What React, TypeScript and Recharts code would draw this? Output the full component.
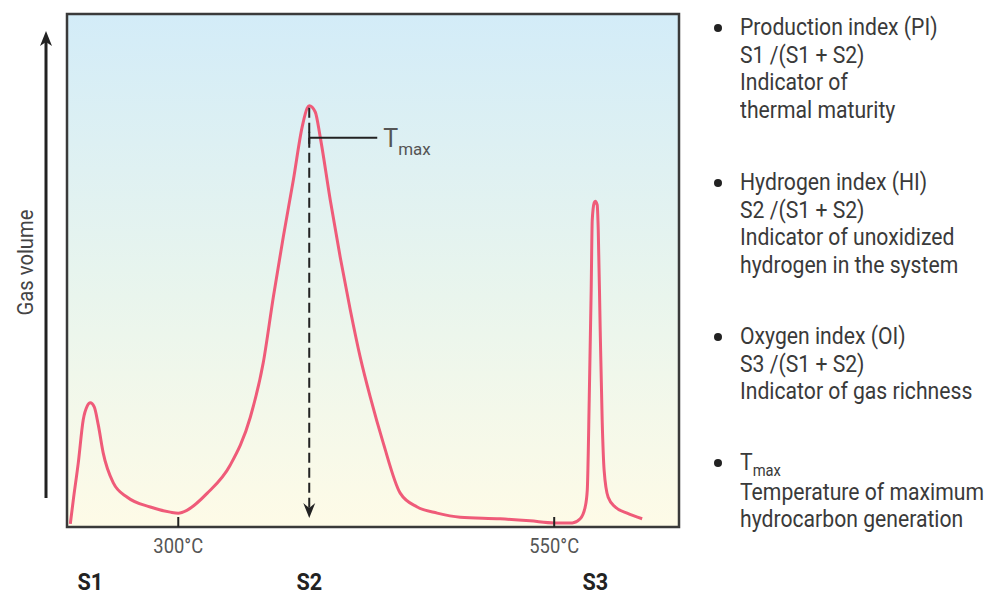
import React from "react"
import {
    LineChart,
    Line,
    XAxis,
    YAxis,
    ReferenceArea,
    ReferenceLine,
} from "recharts"

// pyrolysis trace: oven temperature (°C) vs released gas volume (relative units)
const temperature = [
    228.2, 230.2, 233.5, 236.8, 239.5, 241.5, 244.1, 246.8, 250.1, 256.8,
    266.1, 281.4, 294.7, 300.0, 306.0, 319.3, 334.6, 347.9, 356.5, 363.2,
    369.8, 376.5, 382.4, 385.8, 387.1, 391.1, 394.4, 401.1, 407.7, 414.4,
    421.0, 427.7, 436.3, 447.6, 458.9, 472.2, 487.5, 514.1, 534.0, 550.0,
    562.0, 567.3, 570.6, 572.0, 573.3, 574.6, 575.3, 576.6, 577.3, 578.6,
    579.3, 580.6, 581.9, 583.2, 585.9, 590.6, 598.5, 608.5,
]
const gasVolume = [
    0.6, 5.3, 12.5, 20.9, 23.6, 24.2, 23.4, 19.9, 14.4, 8.6,
    5.8, 3.9, 2.9, 2.7, 3.3, 6.6, 12.1, 21.4, 32.0, 44.8,
    56.5, 67.6, 78.0, 81.7, 82.1, 80.9, 76.0, 63.7, 52.6, 42.3,
    33.1, 25.3, 16.4, 6.6, 3.9, 2.7, 1.9, 1.6, 1.2, 0.8,
    0.8, 1.6, 3.9, 7.2, 24.8, 46.2, 59.8, 63.2, 63.5, 62.8,
    57.9, 38.4, 20.9, 11.1, 5.8, 3.9, 2.7, 1.6,
]

const tempDomain = [226, 633]
const tempTicks = [300, 550]
const peakNames = ["S1", "S2", "S3"]
const peakTemps = [241.5, 387.1, 577.3]
const tmaxTemp = 387.1
const tmaxVolume = 82.1

const legendBlocks = [
    ["Production index (PI)", "S1 /(S1 + S2)", "Indicator of", "thermal maturity"],
    ["Hydrogen index (HI)", "S2 /(S1 + S2)", "Indicator of unoxidized", "hydrogen in the system"],
    ["Oxygen index (OI)", "S3 /(S1 + S2)", "Indicator of gas richness"],
    ["Tmax", "Temperature of maximum", "hydrocarbon generation"],
]
const legendTops = [14, 169, 323, 449]

const FONT = "Roboto, 'Liberation Sans', sans-serif"
const PINK = "#ef5b79"
const INK = "#3a3a3a"

const rows = temperature.map((t, i) => ({ t, v: gasVolume[i] }))

function TempTick(props: any) {
    const { x, y, payload } = props
    return (
        <g>
            <line x1={x} x2={x} y1={y - 10} y2={y} stroke="#222" strokeWidth={2} />
            <text
                x={x}
                y={y + 26}
                textAnchor="middle"
                fontFamily={FONT}
                fontSize={20}
                fill="#555"
                transform={`translate(${x} 0) scale(0.92 1) translate(${-x} 0)`}
            >
                {payload.value}°C
            </text>
        </g>
    )
}

function PeakTick(props: any) {
    const { x, y, index } = props
    return (
        <text
            x={x}
            y={y + 27}
            textAnchor="middle"
            fontFamily={FONT}
            fontWeight="bold"
            fontSize={24}
            fill="#222"
            transform={`translate(${x} 0) scale(0.9 1) translate(${-x} 0)`}
        >
            {peakNames[index]}
        </text>
    )
}

function GasLabel(props: any) {
    const vb = props.viewBox || { x: 0, y: 14, width: 67, height: 513 }
    const ax = vb.x + vb.width - 21
    const tip = vb.y + 17
    const cy = vb.y + vb.height / 2 - 8
    return (
        <g>
            <line x1={ax} x2={ax} y1={vb.y + vb.height - 29} y2={tip + 8} stroke="#222" strokeWidth={3} />
            <polygon
                points={`${ax},${tip} ${ax - 6},${tip + 15} ${ax},${tip + 11} ${ax + 6},${tip + 15}`}
                fill="#222"
            />
            <text
                x={25}
                y={cy}
                transform={`rotate(-90 25 ${cy}) translate(25 0) scale(0.92 1) translate(-25 0)`}
                textAnchor="middle"
                dominantBaseline="central"
                fontFamily={FONT}
                fontSize={22}
                fill="#444"
            >
                Gas volume
            </text>
        </g>
    )
}

function TmaxMarker(props: any) {
    const { x1, y1, y2 } = props
    const x = x1
    const tip = y2 - 9
    const by = y1 + 32
    return (
        <g>
            <line
                x1={x}
                x2={x}
                y1={y1 + 2}
                y2={tip - 8}
                stroke="#222"
                strokeWidth={2}
                strokeDasharray="10 5"
            />
            <polygon
                points={`${x},${tip} ${x - 6},${tip - 15} ${x},${tip - 10} ${x + 6},${tip - 15}`}
                fill="#222"
            />
            <line x1={x} x2={x + 68} y1={by} y2={by} stroke="#222" strokeWidth={2} />
            <line x1={x} x2={x} y1={by - 6} y2={by + 6} stroke="#222" strokeWidth={2} />
            <text x={x + 74} y={by + 9} fontFamily={FONT} fontSize={25} fill="#555">
                T
                <tspan fontSize={17} dy={8}>max</tspan>
            </text>
        </g>
    )
}

function Legend() {
    return (
        <>
            {legendBlocks.map((block, bi) => (
                <div
                    key={bi}
                    style={{
                        position: "absolute",
                        left: 740,
                        top: legendTops[bi],
                        fontFamily: FONT,
                        fontSize: 23,
                        lineHeight: "27.6px",
                        color: INK,
                        whiteSpace: "nowrap",
                    }}
                >
                    <div
                        style={{
                            position: "absolute",
                            left: -26,
                            top: 10,
                            width: 8,
                            height: 8,
                            borderRadius: 4,
                            background: "#222",
                        }}
                    />
                    <div style={{ transform: "scaleX(0.92)", transformOrigin: "0 0" }}>
                        {block.map((line, li) =>
                            line === "Tmax" ? (
                                <div key={li}>
                                    T
                                    <span style={{ fontSize: 16, position: "relative", top: 6 }}>max</span>
                                </div>
                            ) : (
                                <div key={li}>{line}</div>
                            )
                        )}
                    </div>
                </div>
            ))}
        </>
    )
}

export default function App() {
    return (
        <div style={{ position: "absolute", left: 0, top: 0, width: 990, height: 595, background: "#fff" }}>
            <LineChart
                width={990}
                height={595}
                data={rows}
                margin={{ top: 14, right: 311, bottom: 0, left: 0 }}
            >
                <defs>
                    <linearGradient id="bg" x1="0" y1="0" x2="0" y2="1">
                        <stop offset="0%" stopColor="#d3ecf8" />
                        <stop offset="55%" stopColor="#e9f5ed" />
                        <stop offset="100%" stopColor="#fefbe7" />
                    </linearGradient>
                </defs>
                <XAxis
                    xAxisId="a_temp"
                    dataKey="t"
                    type="number"
                    domain={tempDomain}
                    ticks={tempTicks}
                    interval={0}
                    allowDataOverflow
                    height={36}
                    tickSize={0}
                    tickMargin={0}
                    axisLine={false}
                    tick={<TempTick />}
                />
                <XAxis
                    xAxisId="b_peaks"
                    dataKey="t"
                    type="number"
                    domain={tempDomain}
                    ticks={peakTemps}
                    interval={0}
                    allowDataOverflow
                    height={32}
                    tickSize={0}
                    tickMargin={0}
                    axisLine={false}
                    tickLine={false}
                    tick={<PeakTick />}
                />
                <YAxis
                    type="number"
                    domain={[0, 100]}
                    width={67}
                    tick={false}
                    axisLine={false}
                    tickLine={false}
                    label={{ content: (p: any) => <GasLabel {...p} /> }}
                />
                <ReferenceArea
                    xAxisId="a_temp"
                    x1={tempDomain[0]}
                    x2={tempDomain[1]}
                    y1={0}
                    y2={100}
                    fill="url(#bg)"
                    fillOpacity={1}
                    stroke={INK}
                    strokeWidth={2.5}
                />
                <Line
                    xAxisId="a_temp"
                    dataKey="v"
                    type="monotone"
                    stroke={PINK}
                    strokeWidth={3}
                    dot={false}
                    activeDot={false}
                    isAnimationActive={false}
                />
                <ReferenceLine
                    xAxisId="a_temp"
                    segment={[
                        { x: tmaxTemp, y: tmaxVolume },
                        { x: tmaxTemp, y: 0 },
                    ]}
                    shape={(p: any) => <TmaxMarker {...p} />}
                />
            </LineChart>
            <Legend />
        </div>
    )
}
